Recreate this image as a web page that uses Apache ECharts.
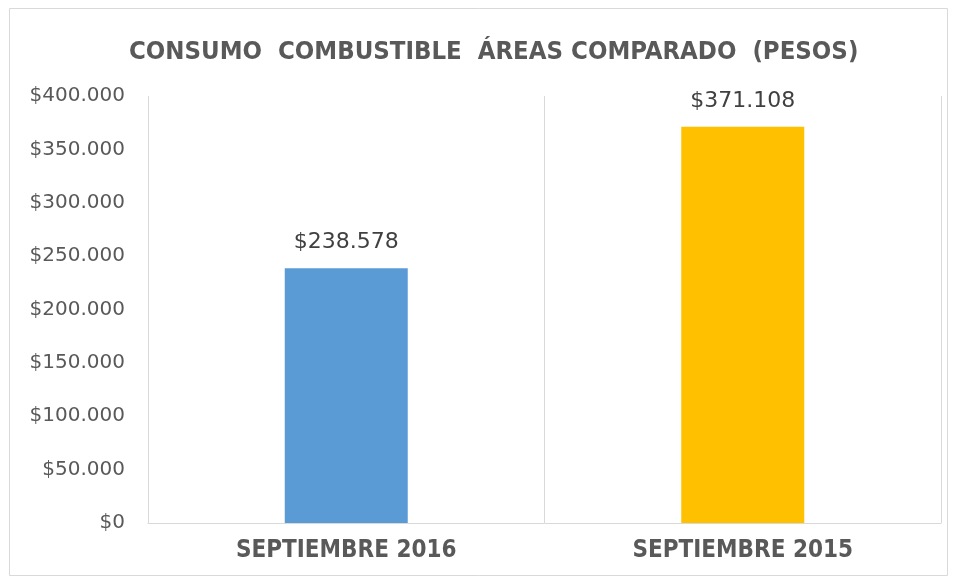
<!DOCTYPE html>
<html>
<head>
    <meta charset="utf-8">
    <title>Consumo combustible</title>
    <script src="https://cdn.jsdelivr.net/npm/echarts@6/dist/echarts.min.js"></script>
</head>
<body style="margin:0;">
<div id="main" style="width: 955px;height:580px;"></div>
<script type="text/javascript">
    // datos del grafico
    var categories = ['SEPTIEMBRE 2016', 'SEPTIEMBRE 2015'];
    var values = [238578, 371108];
    var barColors = ['#5B9BD5', '#FFC000'];

    // $371.108 style
    function pesos(v) {
        return '$' + String(Math.round(v)).replace(/\B(?=(\d{3})+(?!\d))/g, '.');
    }

    var myChart = echarts.init(document.getElementById('main'));
    myChart.setOption({
        backgroundColor: '#fff',
        animation: false,
        title: {
            text: 'CONSUMO  COMBUSTIBLE  ÁREAS COMPARADO  (PESOS)',
            left: 124,
            top: 34,
            textStyle: {
                fontFamily: 'DejaVu Sans Condensed',
                fontWeight: 'bold',
                fontSize: 25.5,
                color: '#595959'
            }
        },
        graphic: [{
            type: 'rect',
            shape: {x: 9.5, y: 8.5, width: 938, height: 567},
            style: {fill: 'none', stroke: '#D9D9D9', lineWidth: 1},
            silent: true
        }],
        grid: {left: 148, right: 14, top: 96, bottom: 57},
        xAxis: {
            type: 'category',
            data: categories,
            axisLine: {lineStyle: {color: '#D9D9D9'}},
            axisTick: {show: false},
            splitLine: {show: true, lineStyle: {color: '#D9D9D9'}},
            axisLabel: {
                margin: 16,
                fontFamily: 'DejaVu Sans Condensed',
                fontWeight: 'bold',
                fontSize: 24,
                color: '#595959'
            }
        },
        yAxis: {
            type: 'value',
            min: 0,
            max: 400000,
            interval: 50000,
            axisLine: {show: false},
            axisTick: {show: false},
            splitLine: {show: false},
            axisLabel: {
                margin: 23,
                fontFamily: 'DejaVu Sans',
                fontSize: 20,
                color: '#595959',
                formatter: pesos
            }
        },
        series: [{
            type: 'bar',
            barWidth: 123,
            data: values.map(function (v, i) {
                return {value: v, itemStyle: {color: barColors[i]}};
            }),
            label: {
                show: true,
                position: 'top',
                distance: 15,
                fontFamily: 'DejaVu Sans',
                fontSize: 22,
                color: '#404040',
                formatter: function (p) { return pesos(p.value); }
            }
        }]
    });
</script>
</body>
</html>
